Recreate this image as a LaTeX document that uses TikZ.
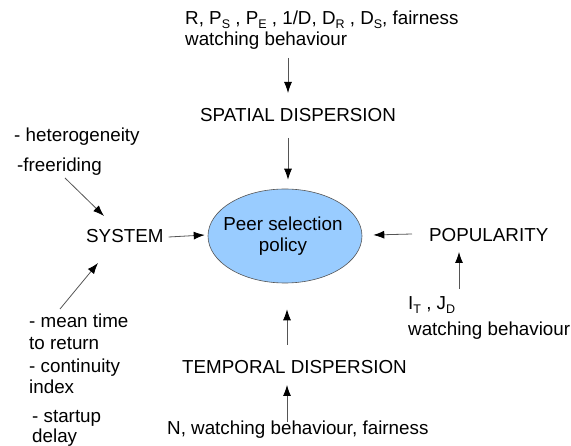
\documentclass[tikz,border=0pt]{standalone}
\usepackage{fontspec}
\setmainfont{Liberation Sans}
\usetikzlibrary{arrows.meta,shapes.geometric,calc}
\definecolor{policyblue}{HTML}{99CCFF}
\definecolor{linegray}{HTML}{555555}
% lowered subscript in upright text
\newcommand\lowsub[1]{\raisebox{-0.32ex}{\fontsize{12.5}{12.5}\selectfont #1}}
\begin{document}
\begin{tikzpicture}[x=1pt,y=-1pt,
  txt/.style={inner sep=0pt,anchor=base west,font=\fontsize{18.8}{21}\selectfont},
  arr/.style={draw=linegray,line width=0.8pt,-{Latex[length=11pt,width=8pt,color=black]}},
  bubble/.style={ellipse,draw=linegray,line width=0.6pt,fill=policyblue,
    minimum width=154pt,minimum height=94pt,inner sep=0pt}]
\useasboundingbox (0,0) rectangle (571,446);

% central policy bubble
\node[bubble] (ell) at (285,236) {};
\node[inner sep=0pt,align=center,font=\fontsize{18.8}{21}\selectfont] (pol) at (283,236.5) {Peer selection\\policy};

% spatial branch
\node[txt] (top1) at (185,25) {R, P\lowsub{S} , P\lowsub{E} , 1/D, D\lowsub{R} , D\lowsub{S}, fairness};
\node[txt] (top2) at (185,46) {watching behaviour};
\node[txt] (spatial) at (200,122) {SPATIAL DISPERSION};

% system branch
\node[txt] (het) at (14,142) {- heterogeneity};
\node[txt] (free) at (17,172) {-freeriding};
\node[txt] (system) at (86,243) {SYSTEM};
\node[txt] (mean1) at (29,328) {- mean time};
\node[txt] (mean2) at (29,350) {to return};
\node[txt] (cont1) at (29,373) {- continuity};
\node[txt] (cont2) at (29,394) {index};
\node[txt] (st1) at (32,423) {- startup};
\node[txt] (st2) at (32,443) {delay};

% popularity branch
\node[txt] (pop) at (429,242) {POPULARITY};
\node[txt] (it) at (408,310) {I\lowsub{T} , J\lowsub{D}};
\node[txt] (wb) at (408,336) {watching behaviour};

% temporal branch
\node[txt] (temporal) at (182,374) {TEMPORAL DISPERSION};
\node[txt] (nwb) at (167,435) {N, watching behaviour, fairness};

% connectors
\draw[arr] ($(top2.base -| ell.north)+(3,12)$) -- ($(spatial.base -| ell.north)+(3,-29)$);
\draw[arr] ($(spatial.base -| ell.north)+(3,16)$) -- ($(ell.north)+(3,-9)$);
\draw[arr] ($(system.base east)+(5,-6)$) -- ($(ell.west)+(-3,-1)$);
\draw[arr] ($(free.base west)+(48,6)$) -- ($(system.base west)+(18,-27)$);
\draw[arr] ($(mean1.base west)+(31,-19)$) -- ($(system.base west)+(12,20)$);
\draw[arr] ($(pop.base west)+(-17,-8)$) -- ($(ell.east)+(11,-1)$);
\draw[arr] ($(it.base west)+(51,-21)$) -- ($(pop.base west)+(30,10)$);
\draw[arr] ($(temporal.base -| ell.south)+(2,-29)$) -- ($(ell.south)+(2,26)$);
\draw[arr] ($(nwb.base -| ell.south)+(2,-13)$) -- ($(temporal.base -| ell.south)+(2,11)$);
\end{tikzpicture}
\end{document}
